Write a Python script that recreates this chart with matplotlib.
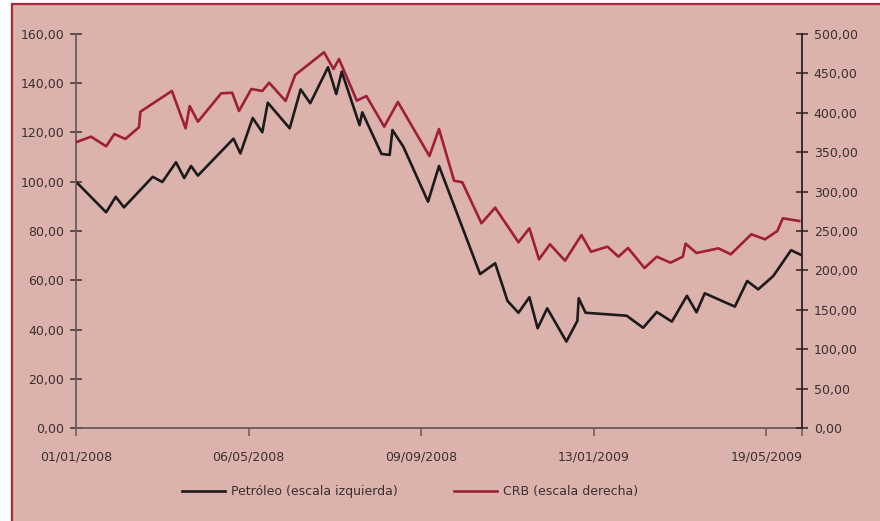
import numpy as np
import matplotlib
matplotlib.use('Agg')
import matplotlib.pyplot as plt
import matplotlib.dates as mdates
from matplotlib.patches import Rectangle
from matplotlib.ticker import FuncFormatter, FixedLocator

# ---- data ----
oil_dates = ['2008-01-01', '2008-01-23', '2008-01-30', '2008-02-05', '2008-02-26',
             '2008-03-04', '2008-03-14', '2008-03-20', '2008-03-25', '2008-03-30',
             '2008-04-25', '2008-04-30', '2008-05-09', '2008-05-16', '2008-05-20',
             '2008-06-05', '2008-06-13', '2008-06-20', '2008-07-03', '2008-07-09',
             '2008-07-13', '2008-07-26', '2008-07-28', '2008-08-11', '2008-08-17',
             '2008-08-19', '2008-08-27', '2008-09-14', '2008-09-22', '2008-10-22',
             '2008-11-02', '2008-11-11', '2008-11-19', '2008-11-27', '2008-12-03',
             '2008-12-10', '2008-12-24', '2009-01-01', '2009-01-02', '2009-01-07',
             '2009-02-06', '2009-02-18', '2009-02-28', '2009-03-11', '2009-03-22',
             '2009-03-29', '2009-04-04', '2009-04-26', '2009-05-05', '2009-05-13',
             '2009-05-24', '2009-06-06', '2009-06-14']
oil_values = [100.0, 87.6, 93.9, 89.6, 102.0, 99.9, 107.9, 101.5, 106.4, 102.5,
              117.5, 111.5, 125.9, 120.1, 132.1, 121.7, 137.5, 131.9, 146.5, 135.6,
              144.7, 123.0, 128.2, 111.3, 110.9, 121.0, 114.2, 91.9, 106.4, 62.5,
              66.9, 51.6, 46.8, 53.1, 40.5, 48.6, 35.1, 43.5, 52.7, 46.8,
              45.6, 40.7, 47.1, 43.2, 53.7, 47.0, 54.7, 49.3, 59.7, 56.3,
              61.7, 72.2, 70.1]

crb_dates = ['2008-01-01', '2008-01-12', '2008-01-23', '2008-01-29', '2008-02-06',
             '2008-02-16', '2008-02-17', '2008-03-11', '2008-03-21', '2008-03-24',
             '2008-03-30', '2008-04-16', '2008-04-24', '2008-04-29', '2008-05-08',
             '2008-05-16', '2008-05-21', '2008-06-02', '2008-06-09', '2008-06-30',
             '2008-07-07', '2008-07-11', '2008-07-24', '2008-07-31', '2008-08-13',
             '2008-08-23', '2008-09-15', '2008-09-22', '2008-10-03', '2008-10-09',
             '2008-10-23', '2008-11-02', '2008-11-19', '2008-11-27', '2008-12-04',
             '2008-12-12', '2008-12-23', '2009-01-04', '2009-01-11', '2009-01-23',
             '2009-01-31', '2009-02-07', '2009-02-19', '2009-02-28', '2009-03-10',
             '2009-03-19', '2009-03-21', '2009-03-29', '2009-04-14', '2009-04-23',
             '2009-05-08', '2009-05-18', '2009-05-27', '2009-05-31', '2009-06-12']
crb_values = [362.6, 369.7, 357.5, 373.1, 366.8, 381.6, 401.4, 427.7, 380.3, 408.6,
              388.7, 424.7, 425.5, 402.3, 430.2, 427.7, 438.2, 415.0, 448.0, 476.8,
              455.6, 468.3, 415.4, 421.3, 382.4, 413.7, 345.2, 379.4, 313.8, 311.8,
              259.8, 279.6, 235.7, 253.4, 214.0, 233.1, 212.3, 244.9, 223.7, 230.1,
              217.4, 228.4, 203.0, 217.4, 209.8, 217.4, 233.9, 222.1, 228.0, 220.4,
              245.8, 239.5, 250.0, 266.1, 262.7]

x_ticks = ['2008-01-01', '2008-05-06', '2008-09-09', '2009-01-13', '2009-05-19']
x_start = '2008-01-01'
x_end = '2009-06-14'

oil_x = np.array(oil_dates, dtype='datetime64[D]')
crb_x = np.array(crb_dates, dtype='datetime64[D]')

plt.rcParams['font.family'] = ['Liberation Sans Narrow', 'DejaVu Sans']

bg = '#dcb2ad'
frame_red = '#a8283c'
oil_col = '#1c1a1a'
crb_col = '#9e1f37'
txt_col = '#3a3030'
axis_grey = '#6a5a5a'
fs = 9

fig = plt.figure(figsize=(8.8, 5.21), dpi=100, facecolor='white')
# pink panel with red frame on top/left
fig.patches.append(Rectangle((12/880, -0.1), 1.2, 1.1 - 4/521, transform=fig.transFigure,
                             facecolor=bg, edgecolor=frame_red, lw=1.6, zorder=-10))

ax = fig.add_axes([76/880, 1 - 428/521, (802-76)/880, (428-34)/521])
ax.set_facecolor('none')
ax2 = ax.twinx()

l1, = ax.plot(oil_x, oil_values, color=oil_col, lw=1.9, label='Petróleo (escala izquierda)')
l2, = ax2.plot(crb_x, crb_values, color=crb_col, lw=1.9, label='CRB (escala derecha)')

ax.set_xlim(np.datetime64(x_start), np.datetime64(x_end))
ax.set_ylim(0, 160)
ax2.set_ylim(0, 500)

ax.set_yticks(np.arange(0, 161, 20))
ax2.set_yticks(np.arange(0, 501, 50))
comma = FuncFormatter(lambda v, p: ('%.2f' % v).replace('.', ','))
ax.yaxis.set_major_formatter(comma)
ax2.yaxis.set_major_formatter(comma)

ax.xaxis.set_major_locator(FixedLocator(mdates.date2num(np.array(x_ticks, dtype='datetime64[D]'))))
ax.xaxis.set_major_formatter(mdates.DateFormatter('%d/%m/%Y'))
ax.xaxis.set_minor_locator(FixedLocator([mdates.date2num(np.datetime64(x_end))]))

ax.spines['top'].set_visible(False)
ax2.spines['top'].set_visible(False)
ax.spines['right'].set_visible(False)
ax2.spines['left'].set_visible(False)
ax2.spines['bottom'].set_visible(False)
ax.spines['left'].set_color(axis_grey)
ax.spines['bottom'].set_color(axis_grey)
ax2.spines['right'].set_color('#2a2222')
for sp in [ax.spines['left'], ax.spines['bottom'], ax2.spines['right']]:
    sp.set_linewidth(1.3)

ax.tick_params(axis='y', direction='inout', length=9, width=1.1, color=txt_col,
               labelsize=fs, labelcolor=txt_col, pad=4)
ax2.tick_params(axis='y', direction='inout', length=9, width=1.1, color='#2a2222',
                labelsize=fs, labelcolor=txt_col, pad=4)
ax.tick_params(axis='x', which='both', direction='out', length=6, width=1.1, color=axis_grey,
               labelsize=fs, labelcolor=txt_col, pad=10)

fig.legend([l1, l2], [l1.get_label(), l2.get_label()], loc='center',
           bbox_to_anchor=(0.466, 1 - 492/521), ncol=2, frameon=False,
           handlelength=3.4, handletextpad=0.5, columnspacing=4.5,
           fontsize=fs, labelcolor=txt_col)

fig.savefig('out.png', dpi=100, facecolor=fig.get_facecolor())
